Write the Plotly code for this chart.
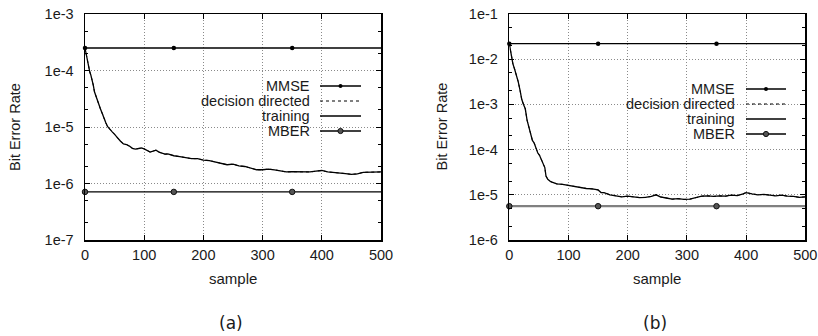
import plotly.graph_objects as go

# ---------------- data ----------------
x_ticks = [0, 100, 200, 300, 400, 500]
x_tick_labels = ["0", "100", "200", "300", "400", "500"]

a_y_ticks = [1e-7, 1e-6, 1e-5, 1e-4, 1e-3]
a_y_tick_labels = ["1e-7", "1e-6", "1e-5", "1e-4", "1e-3"]
b_y_ticks = [1e-6, 1e-5, 1e-4, 1e-3, 1e-2, 1e-1]
b_y_tick_labels = ["1e-6", "1e-5", "1e-4", "1e-3", "1e-2", "1e-1"]

flat_x = [0, 500]
marker_x = [0, 150, 350]

a_mmse = 2.5e-4
a_mber = 7.1e-7
b_mmse = 2.2e-2
b_mber = 5.6e-6

a_train_x = [0, 2, 4, 6, 8, 10, 12, 14, 16, 18, 20, 23, 26, 29, 32, 35, 38, 42, 46, 50,
             55, 60, 65, 70, 75, 80, 85, 90, 95, 100, 105, 110, 115, 120, 125, 130, 135,
             140, 145, 150, 160, 170, 180, 190, 200, 210, 220, 230, 240, 250, 260, 270,
             280, 290, 300, 310, 320, 330, 340, 350, 360, 370, 380, 390, 400, 410, 420,
             430, 440, 450, 460, 470, 480, 490, 500]
a_train_ber = [2.5e-4, 1.9e-4, 1.4e-4, 1.2e-4, 9.5e-5, 8.2e-5, 7.0e-5, 5.5e-5, 4.2e-5,
               3.6e-5, 3.1e-5, 2.6e-5, 2.1e-5, 1.75e-5, 1.4e-5, 1.2e-5, 1.02e-5, 9.3e-6,
               8.2e-6, 7.4e-6, 6.3e-6, 5.6e-6, 5.0e-6, 4.9e-6, 4.6e-6, 4.2e-6, 4.05e-6,
               4.1e-6, 4.25e-6, 4.1e-6, 3.8e-6, 3.6e-6, 3.75e-6, 3.9e-6, 3.6e-6, 3.5e-6,
               3.3e-6, 3.35e-6, 3.2e-6, 3.1e-6, 3.0e-6, 2.9e-6, 2.75e-6, 2.75e-6, 2.6e-6,
               2.55e-6, 2.4e-6, 2.25e-6, 2.15e-6, 2.2e-6, 2.05e-6, 2.0e-6, 1.85e-6, 1.75e-6,
               1.75e-6, 1.8e-6, 1.75e-6, 1.65e-6, 1.6e-6, 1.62e-6, 1.6e-6, 1.62e-6, 1.6e-6,
               1.65e-6, 1.7e-6, 1.6e-6, 1.58e-6, 1.55e-6, 1.5e-6, 1.45e-6, 1.48e-6, 1.58e-6,
               1.6e-6, 1.62e-6, 1.6e-6]

b_train_x = [0, 3, 6, 9, 12, 15, 18, 21, 24, 27, 30, 33, 36, 39, 42, 45, 48, 51, 54, 57,
             60, 62, 65, 70, 75, 80, 90, 100, 110, 120, 130, 140, 150, 155, 160, 170, 180,
             190, 200, 210, 220, 230, 240, 248, 255, 265, 275, 285, 295, 305, 315, 325,
             335, 345, 355, 365, 375, 385, 395, 400, 410, 420, 430, 440, 450, 460, 470,
             480, 490, 500]
b_train_ber = [2.2e-2, 1.3e-2, 8e-3, 6e-3, 4.5e-3, 3.2e-3, 2.1e-3, 1.3e-3, 1.0e-3, 8e-4,
               4.5e-4, 3.2e-4, 2.0e-4, 1.6e-4, 1.4e-4, 1.1e-4, 8.5e-5, 7.5e-5, 6e-5, 5.3e-5,
               4.0e-5, 2.6e-5, 2.2e-5, 1.95e-5, 1.85e-5, 1.75e-5, 1.7e-5, 1.6e-5, 1.55e-5,
               1.45e-5, 1.38e-5, 1.35e-5, 1.28e-5, 1.12e-5, 1.12e-5, 1.0e-5, 9.5e-6, 9.0e-6,
               9.3e-6, 9.0e-6, 8.7e-6, 8.8e-6, 9.2e-6, 1.0e-5, 9.0e-6, 8.5e-6, 8.0e-6, 8.2e-6,
               7.9e-6, 8.0e-6, 8.8e-6, 9.3e-6, 9.5e-6, 9.2e-6, 9.5e-6, 9.3e-6, 9.8e-6,
               9.6e-6, 1.05e-5, 1.12e-5, 1.05e-5, 1.0e-5, 1.02e-5, 9.7e-6, 9.5e-6, 9.8e-6,
               9.3e-6, 9.2e-6, 8.8e-6, 9.0e-6]

legend_labels = ["MMSE", "decision directed", "training", "MBER"]
panel_labels = ["(a)", "(b)"]

# ---------------- geometry ----------------
W, H = 818, 336
FONT = "Liberation Sans, Arial, sans-serif"
TXT = "#1a1a1a"
INK = "#000000"


def px(x):
    return x / W


def py(y):
    return 1 - y / H


panels = [
    dict(xd=[px(85), px(381)], yd=[py(240), py(14)], yr=[-7, -3],
         yt=a_y_ticks, ytl=a_y_tick_labels, tx=a_train_x, ty=a_train_ber,
         mmse=a_mmse, mber=a_mber, mber_col="#000000", mber_w=1.3,
         title_x=15, leg_tx=312, leg_l0=320, leg_l1=361, leg_y=[86, 101, 116, 131],
         box=[197, 77, 364, 139]),
    dict(xd=[px(509.3), px(805.3)], yd=[py(240), py(14)], yr=[-6, -1],
         yt=b_y_ticks, ytl=b_y_tick_labels, tx=b_train_x, ty=b_train_ber,
         mmse=b_mmse, mber=b_mber, mber_col="#808080", mber_w=2.2,
         title_x=441.5, leg_tx=737, leg_l0=746, leg_l1=786, leg_y=[89, 104, 119, 134],
         box=[622, 80, 789, 142]),
]

fig = go.Figure()
shapes = []
annotations = []

for i, p in enumerate(panels):
    sfx = "" if i == 0 else str(i + 1)
    xa, ya = "x" + sfx, "y" + sfx
    # decision directed (coincides with training curve)
    fig.add_trace(go.Scatter(x=p["tx"], y=p["ty"], mode="lines", xaxis=xa, yaxis=ya,
                             line=dict(color=INK, width=1, dash="dot"), showlegend=False))
    # training
    fig.add_trace(go.Scatter(x=p["tx"], y=p["ty"], mode="lines", xaxis=xa, yaxis=ya,
                             line=dict(color=INK, width=1.3), showlegend=False))
    # MMSE
    fig.add_trace(go.Scatter(x=flat_x, y=[p["mmse"]] * len(flat_x), mode="lines", xaxis=xa,
                             yaxis=ya, line=dict(color=INK, width=1.3), showlegend=False))
    fig.add_trace(go.Scatter(x=marker_x, y=[p["mmse"]] * len(marker_x), mode="markers",
                             xaxis=xa, yaxis=ya, cliponaxis=False,
                             marker=dict(color=INK, size=4.5), showlegend=False))
    # MBER
    fig.add_trace(go.Scatter(x=flat_x, y=[p["mber"]] * len(flat_x), mode="lines", xaxis=xa,
                             yaxis=ya, line=dict(color=p["mber_col"], width=p["mber_w"]),
                             showlegend=False))
    fig.add_trace(go.Scatter(x=marker_x, y=[p["mber"]] * len(marker_x), mode="markers",
                             xaxis=xa, yaxis=ya, cliponaxis=False,
                             marker=dict(color="#555", size=5.5,
                                         line=dict(color="#111", width=1)),
                             showlegend=False))

    axis_common = dict(showline=True, linecolor=INK, linewidth=1.5, mirror="allticks",
                       ticks="inside", ticklen=5, tickcolor=INK, tickwidth=1,
                       showgrid=True, gridcolor="#8a8a8a", griddash="1px,2px", gridwidth=1,
                       zeroline=False, automargin=False, ticklabeloverflow="allow",
                       tickfont=dict(family=FONT, size=14.5, color=TXT))
    fig.update_layout(**{
        "xaxis" + sfx: dict(axis_common, domain=p["xd"], range=[0, 500], anchor=ya,
                            tickvals=x_ticks, ticktext=x_tick_labels, ticklabelstandoff=1),
        "yaxis" + sfx: dict(axis_common, domain=p["yd"], type="log", range=p["yr"],
                            anchor=xa, tickvals=p["yt"], ticktext=p["ytl"],
                            ticklabelstandoff=7,
                            minor=dict(ticks="inside", ticklen=3, tickcolor=INK,
                                       dtick="D2", showgrid=False)),
    })

    xc = (p["xd"][0] + p["xd"][1]) / 2
    annotations += [
        dict(text="Bit Error Rate", x=px(p["title_x"]), y=py(127), xref="paper", yref="paper",
             xanchor="center", yanchor="middle",
             textangle=-90, showarrow=False, font=dict(family=FONT, size=14.5, color=TXT)),
        dict(text="sample", x=xc, y=py(278), xref="paper", yref="paper", showarrow=False,
             xanchor="center", yanchor="middle",
             font=dict(family=FONT, size=15, color=TXT)),
        dict(text=panel_labels[i], x=xc - 2 / W, y=py(323), xref="paper", yref="paper",
             xanchor="center", yanchor="middle",
             showarrow=False, font=dict(family="DejaVu Sans, sans-serif", size=17, color=TXT)),
    ]

    # legend box
    b = p["box"]
    shapes.append(dict(type="rect", xref="paper", yref="paper", x0=px(b[0]), x1=px(b[2]),
                       y0=py(b[3]), y1=py(b[1]), fillcolor="white", line=dict(width=0),
                       layer="between"))
    styles = [dict(color=INK, width=1.3), dict(color=INK, width=1, dash="dot"),
              dict(color=INK, width=1.3), dict(color=INK, width=1.3)]
    for k, lab in enumerate(legend_labels):
        yy = p["leg_y"][k]
        annotations.append(dict(text=lab, x=px(p["leg_tx"]), y=py(yy), xref="paper",
                                yref="paper", xanchor="right", yanchor="middle",
                                showarrow=False,
                                font=dict(family=FONT, size=14.5, color=TXT)))
        shapes.append(dict(type="line", xref="paper", yref="paper", x0=px(p["leg_l0"]),
                           x1=px(p["leg_l1"]), y0=py(yy), y1=py(yy), line=styles[k]))
    mx = (p["leg_l0"] + p["leg_l1"]) / 2
    y0 = p["leg_y"][0]
    shapes.append(dict(type="circle", xref="paper", yref="paper", x0=px(mx - 2), x1=px(mx + 2),
                       y0=py(y0 + 2), y1=py(y0 - 2), fillcolor=INK, line=dict(width=0)))
    y3 = p["leg_y"][3]
    shapes.append(dict(type="circle", xref="paper", yref="paper", x0=px(mx - 2.6), x1=px(mx + 2.6),
                       y0=py(y3 + 2.6), y1=py(y3 - 2.6), fillcolor="#555",
                       line=dict(color="#111", width=1)))

fig.update_layout(width=W, height=H, margin=dict(l=0, r=0, t=0, b=0, autoexpand=False),
                  paper_bgcolor="white", plot_bgcolor="white", showlegend=False,
                  hovermode=False, shapes=shapes, annotations=annotations)

# remove the default 8px page margin so the figure fills the window exactly
fig.write_html("out.html", config={"displayModeBar": False, "staticPlot": True},
               post_script="document.body.style.margin='0';document.body.style.overflow='hidden';")
